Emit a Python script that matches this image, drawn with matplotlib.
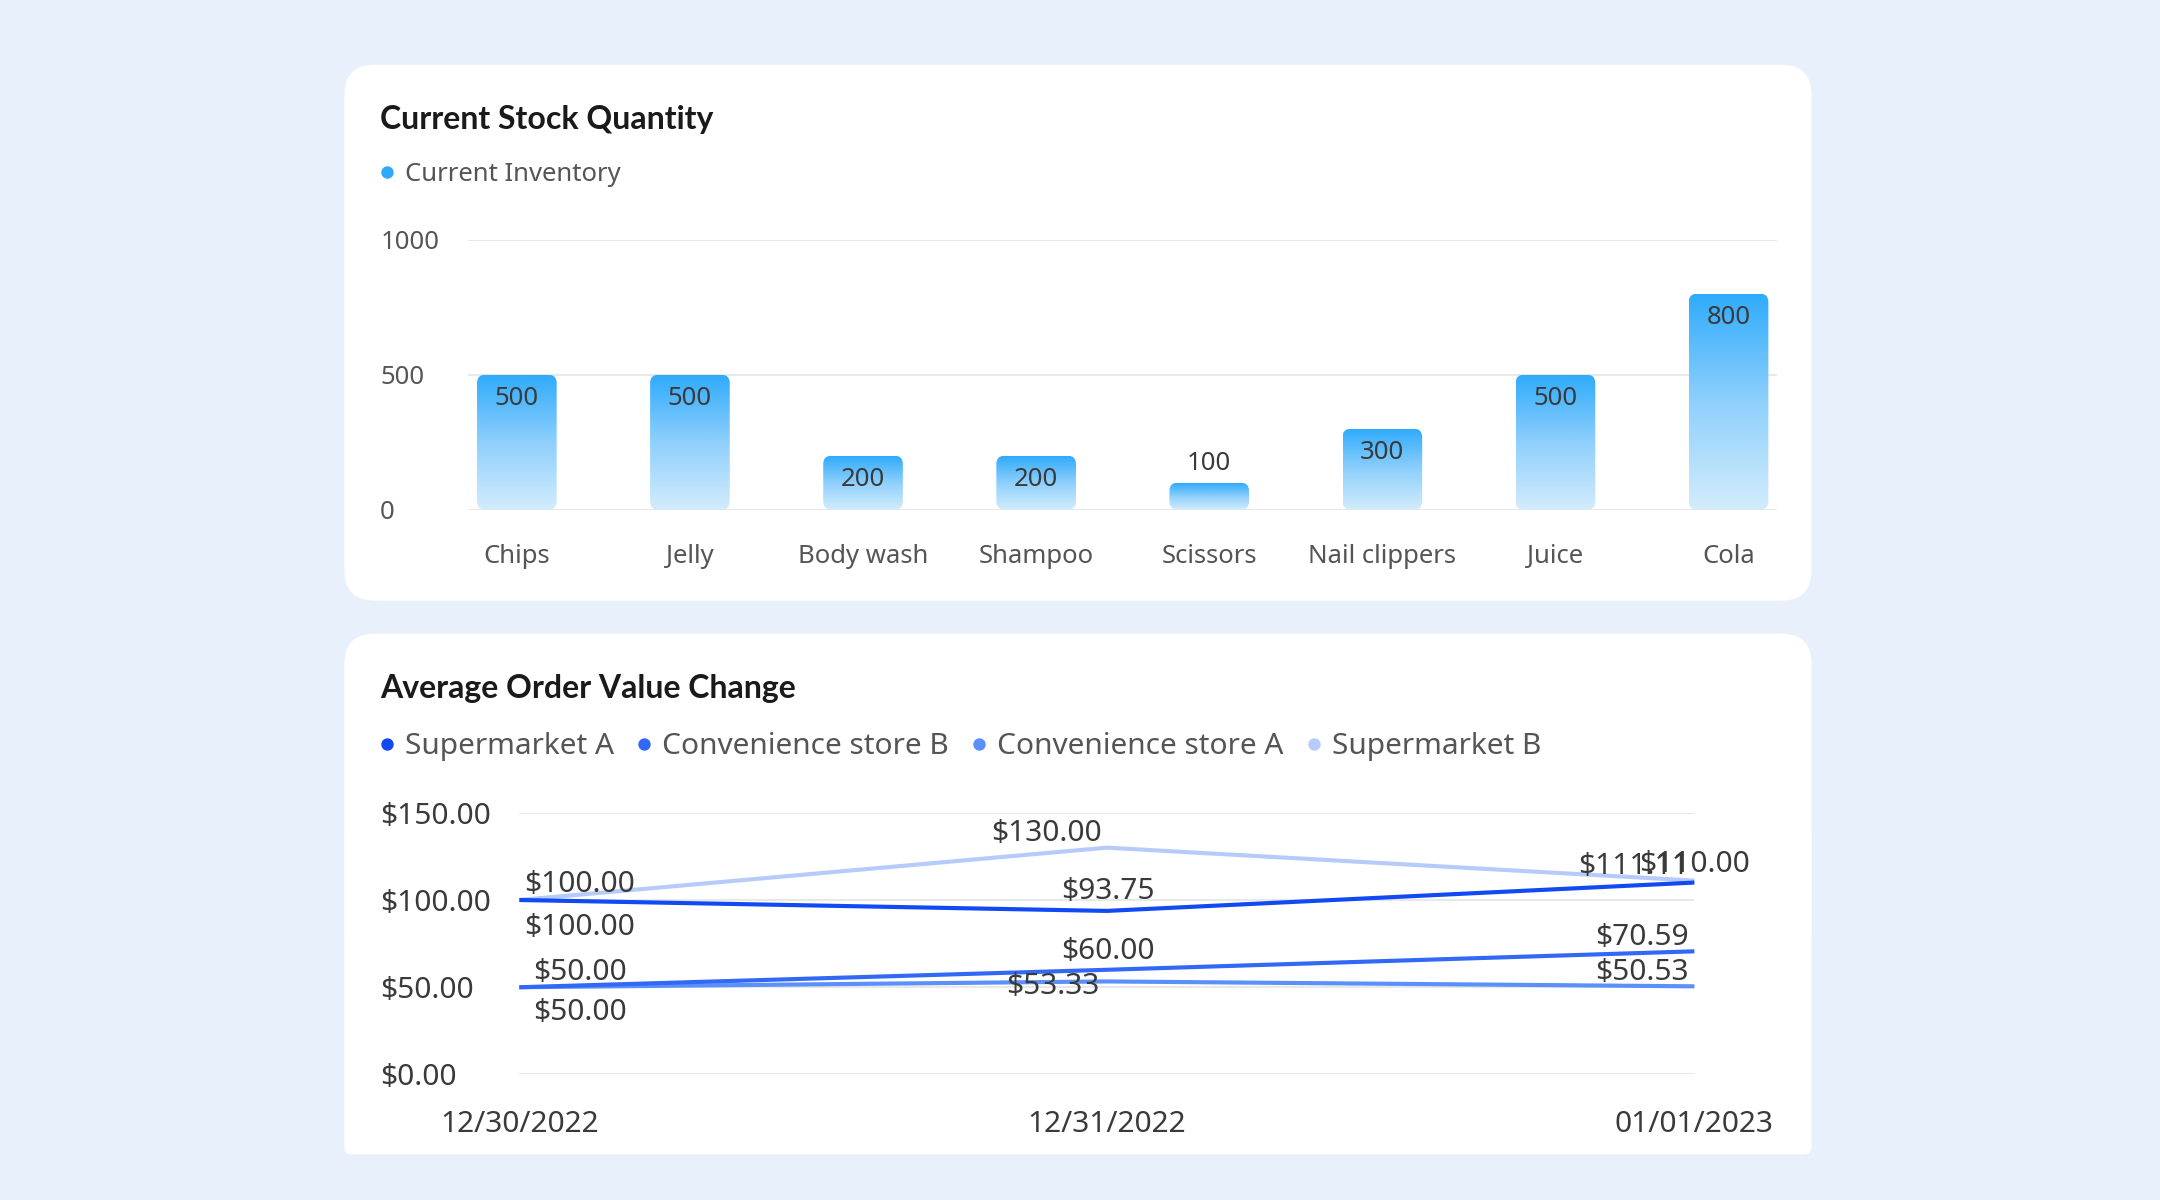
import matplotlib
matplotlib.use('Agg')
import matplotlib.pyplot as plt
from matplotlib.patches import FancyBboxPatch
from matplotlib.colors import LinearSegmentedColormap
import numpy as np

# ---------------- data ----------------
categories = ['Chips', 'Jelly', 'Body wash', 'Shampoo', 'Scissors', 'Nail clippers', 'Juice', 'Cola']
inventory = [500, 500, 200, 200, 100, 300, 500, 800]
bar_ticks = [0, 500, 1000]

dates = ['12/30/2022', '12/31/2022', '01/01/2023']
supermarket_a = [100.00, 93.75, 110.00]
convenience_b = [50.00, 60.00, 70.59]
convenience_a = [50.00, 53.33, 50.53]
supermarket_b = [100.00, 130.00, 111.11]
line_ticks = [0, 50, 100, 150]

# ---------------- layout helpers ----------------
W, H = 2160, 1200
S = W / 1568.0
FONT = ['Noto Sans', 'DejaVu Sans']
TFONT = ['Lato', 'DejaVu Sans']
plt.rcParams['font.family'] = FONT

fig = plt.figure(figsize=(W / 100, H / 100), dpi=100)
fig.patch.set_facecolor('#e8f0fc')

bg = fig.add_axes([0, 0, 1, 1])
bg.set_xlim(0, W)
bg.set_ylim(H, 0)
bg.axis('off')


def P(v):
    return v * S


def PT(v):
    return P(v) * 0.72


def card(x0, y0, x1, y1, r):
    bg.add_patch(FancyBboxPatch((P(x0 + r), P(y0 + r)), P(x1 - x0 - 2 * r), P(y1 - y0 - 2 * r),
                                boxstyle='round,pad=%f' % P(r), fc='white', ec='none', zorder=1))


def axes_px(x0, y0, x1, y1):
    return fig.add_axes([P(x0) / W, 1 - P(y1) / H, P(x1 - x0) / W, P(y1 - y0) / H])


card(250, 47, 1315, 436, 22)
card(250, 460, 1315, 700, 22)
card(250, 600, 1315, 838, 5)

TXT = '#555555'
DARK = '#3a3a3a'
TITLE = '#1a1a1a'
FS1 = 18.5
FS2 = 21.5

# ---------------- chart 1 ----------------
bg.text(P(276), P(87), 'Current Stock Quantity', fontsize=23, fontweight='bold', family=TFONT,
        color=TITLE, va='center', ha='left', zorder=3)
bg.scatter([P(281)], [P(125)], s=P(9) ** 2 * 0.52, color='#2fa9fb', zorder=3, lw=0)
bg.text(P(294), P(127), 'Current Inventory', fontsize=FS1, color=TXT, va='center', ha='left', zorder=3)

ax1 = axes_px(340, 174, 1290, 370)
ax1.set_facecolor('none')
x = np.arange(len(categories))
bw = 0.46
xl = (-0.28, len(categories) - 1 + 0.28)
yl = (0, 1000)
cmap = LinearSegmentedColormap.from_list('g', ['#d3ecfd', '#8fd0fc', '#30abfc'])
grad = np.linspace(0, 1, 256).reshape(-1, 1)
xu = (xl[1] - xl[0]) / 950.0
yu = (yl[1] - yl[0]) / 196.0
asp = yu / xu
rx = 6 * xu
for i, v in enumerate(inventory):
    x0 = x[i] - bw / 2
    patch = FancyBboxPatch((x0, 0), bw, v, boxstyle='round,pad=0,rounding_size=%f' % rx,
                           mutation_aspect=asp, fc='none', ec='none', zorder=2)
    ax1.add_patch(patch)
    im = ax1.imshow(grad, extent=(x0, x0 + bw, 0, v), origin='lower', cmap=cmap,
                    aspect='auto', zorder=2, interpolation='bilinear')
    im.set_clip_path(patch)
    if v >= 200:
        ax1.annotate(str(v), (x[i], v), xytext=(0, -P(17)), textcoords='offset pixels',
                     ha='center', va='center', fontsize=FS1, color=DARK, zorder=4)
    else:
        ax1.annotate(str(v), (x[i], v), xytext=(0, P(14)), textcoords='offset pixels',
                     ha='center', va='center', fontsize=FS1, color=DARK, zorder=4)
ax1.set_xlim(*xl)
ax1.set_ylim(*yl)
ax1.set_yticks(bar_ticks)
ax1.set_yticklabels([str(t) for t in bar_ticks], ha='left')
ax1.set_xticks(x)
ax1.set_xticklabels(categories, va='center')
ax1.yaxis.grid(True, color='#e8e8e8', lw=P(1.5) * 0.72)
ax1.set_axisbelow(True)
for s in ax1.spines.values():
    s.set_visible(False)
ax1.tick_params(axis='y', length=0, pad=PT(64), labelsize=FS1, labelcolor=TXT)
ax1.tick_params(axis='x', length=0, pad=PT(34), labelsize=FS1, labelcolor=TXT)

# ---------------- chart 2 ----------------
bg.text(P(276), P(500), 'Average Order Value Change', fontsize=23, fontweight='bold', family=TFONT,
        color=TITLE, va='center', ha='left', zorder=3)

series = [
    ('Supermarket A', supermarket_a, '#1149f3', [(44, 20), (1, -14), (0, -13)]),
    ('Convenience store B', convenience_b, '#3169f6', [(44, -11), (1, -13), (-38, -10)]),
    ('Convenience store A', convenience_a, '#5b8ff9', [(44, 18), (-39, 4), (-38, -10)]),
    ('Supermarket B', supermarket_b, '#b7cbfb', [(44, -11), (-44, -10), (-44, -10)]),
]

fig.canvas.draw()
renderer = fig.canvas.get_renderer()
lx = P(281)
for name, vals, col, _ in series:
    bg.scatter([lx], [P(540)], s=P(9) ** 2 * 0.52, color=col, zorder=3, lw=0)
    t = bg.text(lx + P(13), P(542), name, fontsize=FS2, color=TXT, va='center', ha='left', zorder=3)
    bb = t.get_window_extent(renderer=renderer)
    lx = lx + P(13) + bb.width + P(22)

ax2 = axes_px(377, 590, 1230, 780)
ax2.set_facecolor('none')
xi = np.arange(len(dates))
for name, vals, col, _ in reversed(series):
    ax2.plot(xi, vals, color=col, lw=PT(3), solid_capstyle='butt', zorder=3, clip_on=False)
for name, vals, col, offs in series:
    for j, v in enumerate(vals):
        ax2.annotate('$%.2f' % v, (xi[j], v), xytext=(P(offs[j][0]), -P(offs[j][1])),
                     textcoords='offset pixels', ha='center', va='center', fontsize=FS2,
                     color=DARK, zorder=4, annotation_clip=False)
ax2.set_xlim(0, len(dates) - 1)
ax2.set_ylim(0, 150)
ax2.set_yticks(line_ticks)
ax2.set_yticklabels(['$%.2f' % t for t in line_ticks], ha='left')
ax2.set_xticks(xi)
ax2.set_xticklabels(dates, va='center')
ax2.yaxis.grid(True, color='#e8e8e8', lw=P(1.5) * 0.72)
ax2.set_axisbelow(True)
for s in ax2.spines.values():
    s.set_visible(False)
ax2.tick_params(axis='y', length=0, pad=PT(101), labelsize=FS2, labelcolor=DARK)
ax2.tick_params(axis='x', length=0, pad=PT(36), labelsize=FS2, labelcolor=DARK)

fig.savefig('out.png', dpi=100, facecolor=fig.get_facecolor())
